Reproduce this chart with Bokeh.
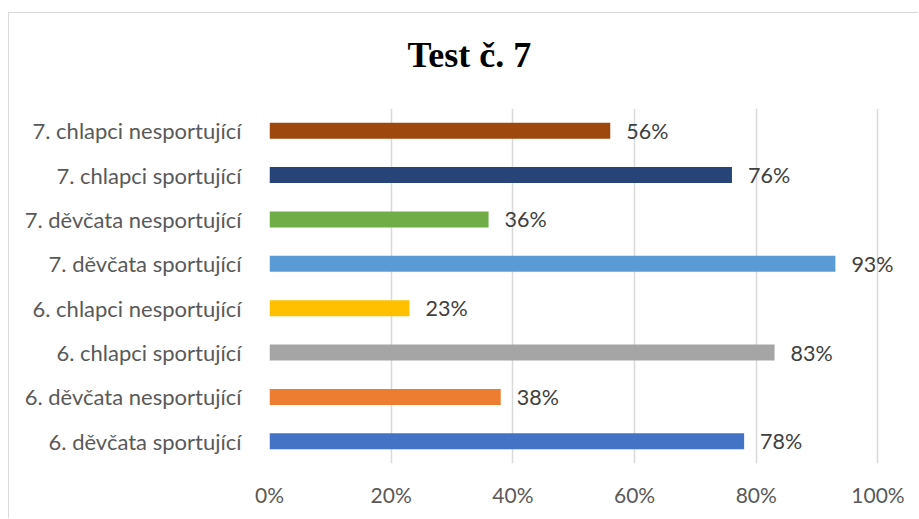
from bokeh.plotting import figure
from bokeh.models import FactorRange, Range1d, PrintfTickFormatter, FixedTicker, ColumnDataSource, Title
from bokeh.core.properties import value
from bokeh.embed import file_html
from bokeh.resources import INLINE

categories = [
    "6. děvčata sportující",
    "6. děvčata nesportující",
    "6. chlapci sportující",
    "6. chlapci nesportující",
    "7. děvčata sportující",
    "7. děvčata nesportující",
    "7. chlapci sportující",
    "7. chlapci nesportující",
]
values = [78, 38, 83, 23, 93, 36, 76, 56]
colors = ["#4472C4", "#ED7D31", "#A5A5A5", "#FFC000", "#5B9BD5", "#70AD47", "#264478", "#9E480E"]
x_ticks = [0, 20, 40, 60, 80, 100]
title_text = "Test č. 7"

labels = [f"{v}%" for v in values]
src = ColumnDataSource(dict(cat=categories, val=values, color=colors, lab=labels))

p = figure(
    width=910, height=506, title=None,
    y_range=FactorRange(factors=categories, range_padding=0),
    x_range=Range1d(0, 106),
    output_backend="svg", toolbar_location=None,
    min_border_left=260, min_border_right=5, min_border_top=95, min_border_bottom=56,
)
p.styles = {"border-top": "1px solid #d9d9d9", "border-left": "1px solid #d9d9d9",
            "margin-top": "12px", "margin-left": "8px"}
p.outline_line_color = None
p.background_fill_color = "white"
p.border_fill_color = "white"

# spacer panel between the frame and the title
p.add_layout(Title(text=" ", text_font_size="24px", standoff=5, text_color="white"), "above")
p.add_layout(Title(text=title_text, align="left", offset=138, standoff=0,
                   text_font="Liberation Serif", text_font_style="bold",
                   text_font_size="36px", text_color="black"), "above")

p.hbar(y="cat", right="val", left=0, height=0.36, fill_color="color", line_color=None, source=src)
p.text(x="val", y="cat", text="lab", source=src, x_offset=16,
       text_align="left", text_baseline="middle",
       text_font=value("Lato"), text_font_size="21.5px", text_color="#404040")

p.xaxis.ticker = FixedTicker(ticks=x_ticks)
p.xaxis.formatter = PrintfTickFormatter(format="%d%%")
p.xaxis.axis_line_color = None
p.xaxis.major_tick_line_color = None
p.xaxis.minor_tick_line_color = None
p.xaxis.major_label_text_font = "Lato"
p.xaxis.major_label_text_font_size = "21px"
p.xaxis.major_label_text_color = "#595959"
p.xaxis.major_label_standoff = 12

p.yaxis.axis_line_color = None
p.yaxis.major_tick_line_color = None
p.yaxis.minor_tick_line_color = None
p.yaxis.major_label_text_font = "Lato"
p.yaxis.major_label_text_font_size = "22px"
p.yaxis.major_label_text_color = "#595959"
p.yaxis.major_label_standoff = 22

p.ygrid.grid_line_color = None
p.xgrid.grid_line_color = "#d9d9d9"
p.xgrid.grid_line_width = 1.5

open("out.html", "w").write(file_html(p, INLINE))
